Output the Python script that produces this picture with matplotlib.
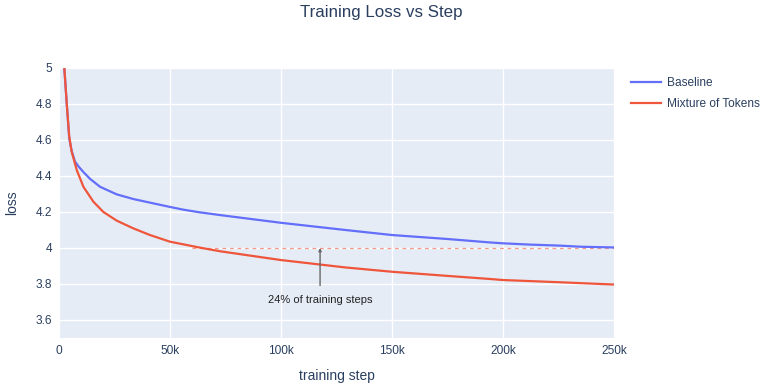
import matplotlib
matplotlib.use("Agg")
import matplotlib.pyplot as plt
import numpy as np
from matplotlib.ticker import FuncFormatter

# valores (pasos en miles)
baseline_steps_k = [1, 2, 2.4, 3.5, 4.6, 5.7, 7.2, 9, 11, 14, 18.5, 26, 33.5, 41, 50, 56, 63.5,
                    72.5, 100, 129, 150, 175, 194, 200, 212, 226, 235, 250]
baseline_loss = [6.0, 5.1, 5.0, 4.80, 4.61, 4.54, 4.48, 4.45, 4.422, 4.384, 4.34, 4.298, 4.272,
                 4.252, 4.228, 4.213, 4.198, 4.183, 4.14, 4.1, 4.072, 4.05, 4.031,
                 4.026, 4.019, 4.013, 4.007, 4.003]

mot_steps_k = [1, 2, 2.4, 3.5, 4.6, 5.7, 8, 11, 15.5, 20, 26, 33.5, 41, 50, 63.5, 72.5,
               100, 129, 150, 175, 194, 200, 225, 250]
mot_loss = [6.0, 5.1, 5.0, 4.80, 4.62, 4.535, 4.433, 4.34, 4.257, 4.20, 4.152, 4.109, 4.072,
            4.035, 4.002, 3.982, 3.933, 3.892, 3.868, 3.845, 3.828, 3.822, 3.81, 3.797]

target_loss = 4.0
match_step_k = 60
annot_step_k = 117.6
annot_text = "24% of training steps"

BLUE = "#636efa"
RED = "#EF553B"
FONT = "#2a3f5f"
plt.rcParams["font.family"] = ["Liberation Sans", "DejaVu Sans"]

fig = plt.figure(figsize=(7.63, 3.87), dpi=100)
ax = fig.add_axes([59 / 763, 1 - 338 / 387, 555 / 763, 270 / 387])
ax.set_facecolor("#E5ECF6")

ax.plot(np.array(baseline_steps_k) * 1000, baseline_loss, color=BLUE, lw=1.6, label="Baseline",
        solid_joinstyle="round", zorder=3)
ax.plot(np.array(mot_steps_k) * 1000, mot_loss, color=RED, lw=1.6, label="Mixture of Tokens",
        solid_joinstyle="round", zorder=3)

ax.plot([match_step_k * 1000, 250000], [target_loss, target_loss], color=RED, alpha=0.6,
        lw=0.9, dashes=(3, 3), zorder=2)

ax.annotate(annot_text, xy=(annot_step_k * 1000, target_loss), xytext=(annot_step_k * 1000, 3.71),
            ha="center", va="center", fontsize=8, color="#222222",
            arrowprops=dict(arrowstyle="-|>", color="#666666", lw=1.0, mutation_scale=4,
                            shrinkA=5, shrinkB=0), zorder=4)

ax.set_xlim(0, 250000)
ax.set_ylim(3.5, 5.0)
ax.set_xticks([0, 50000, 100000, 150000, 200000, 250000])
ax.xaxis.set_major_formatter(FuncFormatter(lambda v, p: "0" if v == 0 else f"{int(v / 1000)}k"))
ax.set_yticks([3.6, 3.8, 4.0, 4.2, 4.4, 4.6, 4.8, 5.0])
ax.yaxis.set_major_formatter(FuncFormatter(lambda v, p: f"{v:g}"))
ax.grid(color="white", lw=1)
ax.set_axisbelow(True)
for s in ax.spines.values():
    s.set_visible(False)
ax.tick_params(length=0, labelsize=8.6, labelcolor=FONT, pad=5)

ax.set_xlabel("training step", fontsize=10, color=FONT, labelpad=9)
ax.set_ylabel("loss", fontsize=10, color=FONT, labelpad=12)

fig.text(0.5, 1 - 13 / 387, "Training Loss vs Step", ha="center", va="center",
         fontsize=12.2, color=FONT)

leg = fig.legend(loc="upper left", bbox_to_anchor=(631 / 763, 1 - 77 / 387), frameon=False,
                 fontsize=8.6, handlelength=2.5, labelspacing=0.75, handletextpad=0.5,
                 borderpad=0, borderaxespad=0)
for t in leg.get_texts():
    t.set_color(FONT)

fig.savefig("out.png", dpi=100)
